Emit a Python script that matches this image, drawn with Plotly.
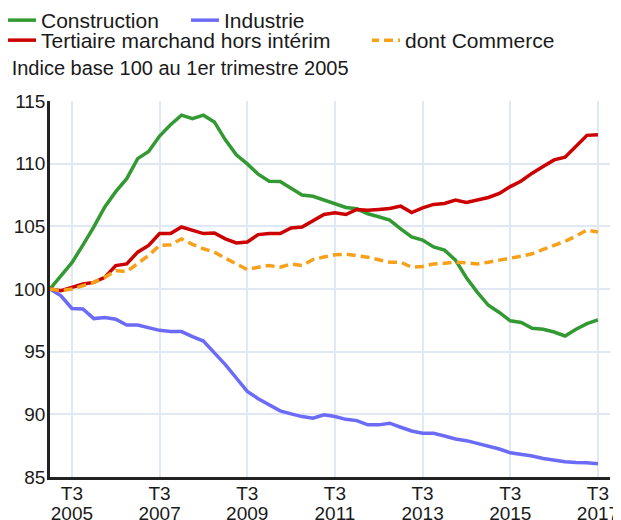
import plotly.graph_objects as go

years = list(range(2005, 2018))
quarters = [f"T{q} {y}" for y in years for q in (1, 2, 3, 4)][:51]  # T1 2005 .. T3 2017

construction = [100.0, 101.07, 102.1, 103.5, 104.95, 106.55, 107.77, 108.8, 110.4, 110.97,
                112.2, 113.1, 113.87, 113.6, 113.87, 113.33, 111.9, 110.7, 109.98, 109.16,
                108.6, 108.57, 108.03, 107.5, 107.4, 107.1, 106.8, 106.5, 106.4, 106.0,
                105.76, 105.5, 104.8, 104.15, 103.9, 103.35, 103.1, 102.3, 100.9, 99.73,
                98.7, 98.13, 97.46, 97.33, 96.87, 96.79, 96.57, 96.25, 96.79, 97.24, 97.53]

industrie = [100.0, 99.46, 98.45, 98.4, 97.64, 97.72, 97.59, 97.13, 97.13, 96.92,
             96.7, 96.6, 96.6, 96.2, 95.85, 94.9, 93.97, 92.9, 91.83, 91.25,
             90.76, 90.28, 90.04, 89.82, 89.69, 89.96, 89.82, 89.6, 89.5, 89.16,
             89.16, 89.29, 88.97, 88.67, 88.49, 88.49, 88.27, 88.03, 87.9, 87.69,
             87.5, 87.23, 86.93, 86.83, 86.67, 86.48, 86.35, 86.21, 86.16, 86.14, 86.05]

tertiaire = [100.0, 99.86, 100.13, 100.4, 100.53, 100.93, 101.87, 102.0, 102.94, 103.48,
             104.42, 104.42, 104.95, 104.7, 104.42, 104.47, 104.0, 103.67, 103.75, 104.34,
             104.42, 104.42, 104.87, 104.95, 105.49, 105.95, 106.08, 105.94, 106.35, 106.29,
             106.35, 106.43, 106.61, 106.1, 106.48, 106.75, 106.83, 107.09, 106.9, 107.09,
             107.3, 107.63, 108.17, 108.62, 109.24, 109.77, 110.3, 110.52, 111.43, 112.26, 112.31]

commerce = [100.0, 99.86, 100.0, 100.27, 100.53, 100.93, 101.47, 101.39, 102.0, 102.68,
            103.48, 103.53, 104.0, 103.56, 103.21, 102.94, 102.46, 102.0, 101.55, 101.74,
            101.87, 101.74, 102.0, 101.87, 102.35, 102.55, 102.73, 102.78, 102.68, 102.54,
            102.33, 102.14, 102.14, 101.74, 101.8, 102.0, 102.05, 102.14, 102.08, 102.0,
            102.14, 102.27, 102.46, 102.62, 102.81, 103.16, 103.48, 103.8, 104.23, 104.7, 104.55]

y_ticks = [85, 90, 95, 100, 105, 110, 115]

x = list(range(len(quarters)))
tick_idx = [i for i, q in enumerate(quarters) if q.startswith("T3") and int(q[-4:]) % 2 == 1]
tick_quarter = [quarters[i].split(" ")[0] for i in tick_idx]
tick_year = [quarters[i].split(" ")[1] for i in tick_idx]

FONT = "Liberation Sans, Arial, sans-serif"
W, H = 613, 512          # page body has an 8px margin
L, R, T, B = 42, 11, 93, 43
PW, PH = W - L - R, H - T - B
XR = [0, 51.1]


def px_x(p):  # figure pixel -> paper x
    return (p - L) / PW


def px_y(p):  # figure pixel -> paper y
    return 1 + (T - p) / PH


fig = go.Figure()
fig.add_trace(go.Scatter(x=x, y=construction, name="Construction", mode="lines",
                         line=dict(color="#339933", width=3.5), legend="legend",
                         hovertext=quarters))
fig.add_trace(go.Scatter(x=x, y=industrie, name="Industrie", mode="lines",
                         line=dict(color="#6b6bf7", width=3.5), legend="legend2",
                         hovertext=quarters))
fig.add_trace(go.Scatter(x=x, y=tertiaire, name="Tertiaire marchand hors intérim", mode="lines",
                         line=dict(color="#cc0000", width=3.5), legend="legend3",
                         hovertext=quarters))
fig.add_trace(go.Scatter(x=x, y=commerce, name="dont Commerce", mode="lines", xaxis="x2",
                         line=dict(color="#f7a11a", width=3.5, dash="9px,5px"), legend="legend4",
                         hovertext=quarters))

leg_common = dict(orientation="h", xref="paper", yref="paper", xanchor="left", yanchor="middle",
                  font=dict(size=21), bgcolor="rgba(0,0,0,0)", indentation=-7, itemclick=False)

fig.update_layout(
    width=W, height=H,
    margin=dict(l=L, r=R, t=T, b=B, autoexpand=False),
    paper_bgcolor="white", plot_bgcolor="white",
    font=dict(family=FONT, size=19, color="#1a1a1a"),
    title=dict(text="Indice base 100 au 1er trimestre 2005", xref="container", yref="container",
               x=3.7/W, y=1-60/H, xanchor="left", yanchor="middle",
               font=dict(size=20, color="#1a1a1a")),
    legend=dict(x=px_x(0), y=px_y(12.5), **leg_common),
    legend2=dict(x=px_x(183), y=px_y(12.5), **leg_common),
    legend3=dict(x=px_x(0), y=px_y(32.5), **leg_common),
    legend4=dict(x=px_x(364), y=px_y(32.5), **leg_common),
    showlegend=True,
    xaxis=dict(range=XR, tickvals=tick_idx, ticktext=tick_quarter,
               showgrid=True, gridcolor="#dfe8f3", gridwidth=1.5,
               showline=True, linecolor="#222", linewidth=2.5, zeroline=False,
               ticks="", tickfont=dict(size=19), automargin=False, ticklabelstandoff=-3),
    xaxis2=dict(overlaying="x", anchor="y", side="bottom", range=XR,
                tickvals=tick_idx, ticktext=tick_year, showgrid=False, showline=False,
                zeroline=False, ticks="", tickfont=dict(size=19), automargin=False,
                ticklabelstandoff=23),
    yaxis=dict(range=[85, 115], tickvals=y_ticks,
               showgrid=True, gridcolor="#dfe8f3", gridwidth=1.5,
               showline=True, linecolor="#222", linewidth=2.5, zeroline=False,
               ticks="", tickfont=dict(size=19), automargin=False, ticklabelstandoff=-2),
)

fig.write_html("out.html")
